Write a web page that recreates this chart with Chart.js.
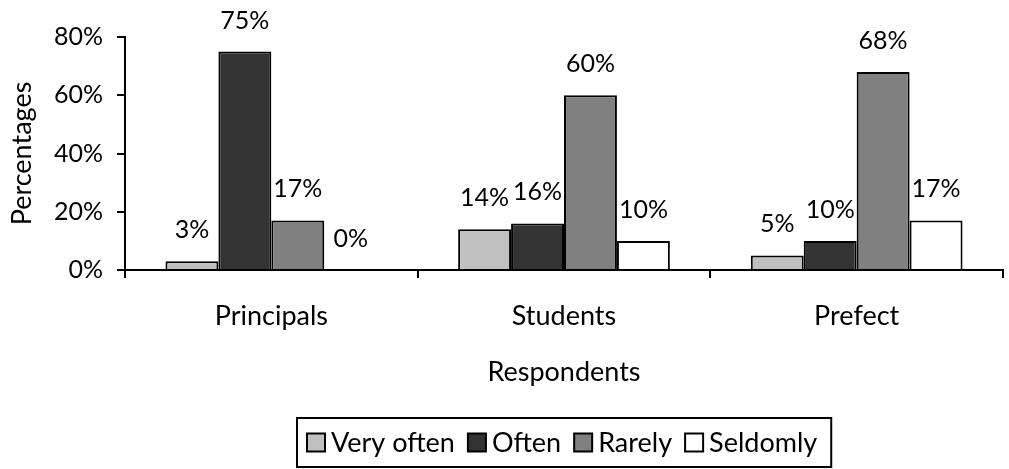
<!DOCTYPE html>
<html>
<head>
<meta charset="utf-8">
<script src="https://cdn.jsdelivr.net/npm/chart.js@4.4.1/dist/chart.umd.min.js"></script>
<style>
  html, body { margin: 0; padding: 0; background: #ffffff; }
  #wrap { width: 1009px; height: 469px; position: relative; }
</style>
</head>
<body>
<div id="wrap"><canvas id="chart" width="1009" height="469"></canvas></div>
<script>
// Respondent groups and the share of each answer, in percent
const respondents = ['Principals', 'Students', 'Prefect'];
const seriesNames = ['Very often', 'Often', 'Rarely', 'Seldomly'];
const veryOften = [3, 14, 5];
const often = [75, 16, 10];
const rarely = [17, 60, 68];
const seldomly = [0, 10, 17];
const yTickValues = [0, 20, 40, 60, 80];

const seriesValues = [veryOften, often, rarely, seldomly];
const seriesFills = ['#c0c0c0', '#333333', '#808080', '#ffffff'];
const FONT_FAMILY = 'Lato, "Open Sans", "DejaVu Sans", sans-serif';
const FONT_SIZE = 27;      // words: axis titles, categories, legend
const NUM_FONT_SIZE = 25;  // percentages: y ticks and bar labels

// Percent labels above each bar, placed from the bar elements themselves
const valueLabels = {
  id: 'valueLabels',
  afterDatasetsDraw(chart) {
    const ctx = chart.ctx;
    ctx.save();
    ctx.font = NUM_FONT_SIZE + 'px ' + FONT_FAMILY;
    ctx.fillStyle = '#000';
    ctx.textAlign = 'center';
    ctx.textBaseline = 'alphabetic';
    chart.data.datasets.forEach((ds, i) => {
      chart.getDatasetMeta(i).data.forEach((bar, j) => {
        ctx.fillText(ds.data[j] + '%', bar.x, bar.y - 23);
      });
    });
    ctx.restore();
  }
};

// Boxed legend row under the axis title
const boxedLegend = {
  id: 'boxedLegend',
  afterDraw(chart) {
    const ctx = chart.ctx;
    const area = chart.chartArea;
    const marker = 18, gap = 6, spacing = 13, padL = 10, padR = 14;
    ctx.save();
    ctx.font = FONT_SIZE + 'px ' + FONT_FAMILY;
    const widths = chart.data.datasets.map(ds => ctx.measureText(ds.label).width);
    let total = padL + padR + spacing * (widths.length - 1);
    widths.forEach(w => { total += marker + gap + w; });
    const top = chart.height - 51;
    const h = 49;
    const left = Math.round((area.left + area.right) / 2 - total / 2);
    ctx.lineWidth = 2;
    ctx.strokeStyle = '#000';
    ctx.strokeRect(left, top, total, h);
    const cy = top + h / 2;
    let x = left + padL;
    ctx.textBaseline = 'middle';
    ctx.textAlign = 'left';
    chart.data.datasets.forEach((ds, i) => {
      ctx.fillStyle = ds.backgroundColor;
      ctx.fillRect(x, cy - marker / 2, marker, marker);
      ctx.lineWidth = 2;
      ctx.strokeRect(x, cy - marker / 2, marker, marker);
      ctx.fillStyle = '#000';
      ctx.fillText(ds.label, x + marker + gap, cy + 1);
      x += marker + gap + widths[i] + spacing;
    });
    ctx.restore();
  }
};

const axisLine = { color: '#000', width: 2 };
const tickGrid = { display: true, drawOnChartArea: false, drawTicks: true, tickLength: 8, color: '#000', lineWidth: 2 };

new Chart(document.getElementById('chart'), {
  type: 'bar',
  data: {
    labels: respondents,
    datasets: seriesNames.map((name, i) => ({
      label: name,
      data: seriesValues[i],
      backgroundColor: seriesFills[i],
      borderColor: '#000',
      borderWidth: 2,
      categoryPercentage: 0.7235,
      barPercentage: 1.0
    }))
  },
  options: {
    responsive: false,
    animation: false,
    layout: { padding: { top: 37, right: 6, bottom: 69, left: 0 } },
    plugins: {
      legend: { display: false },
      tooltip: { enabled: false }
    },
    scales: {
      x: {
        grid: Object.assign({ offset: true }, tickGrid),
        border: axisLine,
        ticks: { color: '#000', font: { family: FONT_FAMILY, size: FONT_SIZE }, padding: 22, maxRotation: 0 },
        title: { display: true, text: 'Respondents', color: '#000', font: { family: FONT_FAMILY, size: FONT_SIZE }, padding: { top: 0, bottom: 12 } },
        afterFit(scale) { scale.height = 130; }
      },
      y: {
        min: 0,
        max: 80,
        afterBuildTicks(scale) { scale.ticks = yTickValues.map(v => ({ value: v })); },
        grid: tickGrid,
        border: axisLine,
        ticks: { color: '#000', font: { family: FONT_FAMILY, size: NUM_FONT_SIZE }, padding: 14, callback: v => v + '%' },
        title: { display: true, text: 'Percentages', color: '#000', font: { family: FONT_FAMILY, size: FONT_SIZE }, padding: { top: 6, bottom: 0 } },
        afterFit(scale) { scale.width = 125; }
      }
    }
  },
  plugins: [valueLabels, boxedLegend]
});
</script>
</body>
</html>
